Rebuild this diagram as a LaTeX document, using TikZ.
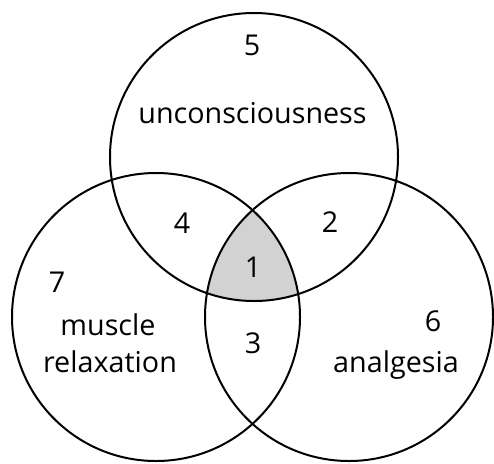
\documentclass[tikz,border=0pt]{standalone}
\usepackage{fontspec}
\setmainfont{Open Sans}
\begin{document}
\begin{tikzpicture}[x=1pt,y=-1pt,
  ring/.style={draw=black,line width=2pt},
  lbl/.style={font=\fontsize{28.7}{36}\selectfont,inner sep=0pt},
  word/.style={lbl,anchor=base}]
\useasboundingbox (0,0) rectangle (494,463);
\coordinate (ct) at (254,157);
\coordinate (cl) at (156,317);
\coordinate (cr) at (349,317);
\begin{scope}
  \clip (ct) circle (144);
  \clip (cl) circle (144);
  \fill[gray!35] (cr) circle (144);
\end{scope}
\draw[ring] (ct) circle (144);
\draw[ring] (cl) circle (144);
\draw[ring] (cr) circle (144);
\node[lbl] (n5) at (252,45) {5};
\node[word] (un) at (252.5,123) {unconsciousness};
\node[lbl] (n4) at (182,223) {4};
\node[lbl] (n2) at (330,222) {2};
\node[lbl] (n1) at (253,267) {1};
\node[lbl] (n7) at (57,282) {7};
\node[word] (mu) at (108,335) {muscle};
\node[word] (re) at (110,372) {relaxation};
\node[lbl] (n3) at (253,343) {3};
\node[lbl] (n6) at (433,321) {6};
\node[word] (an) at (396,372) {analgesia};
\end{tikzpicture}
\end{document}
